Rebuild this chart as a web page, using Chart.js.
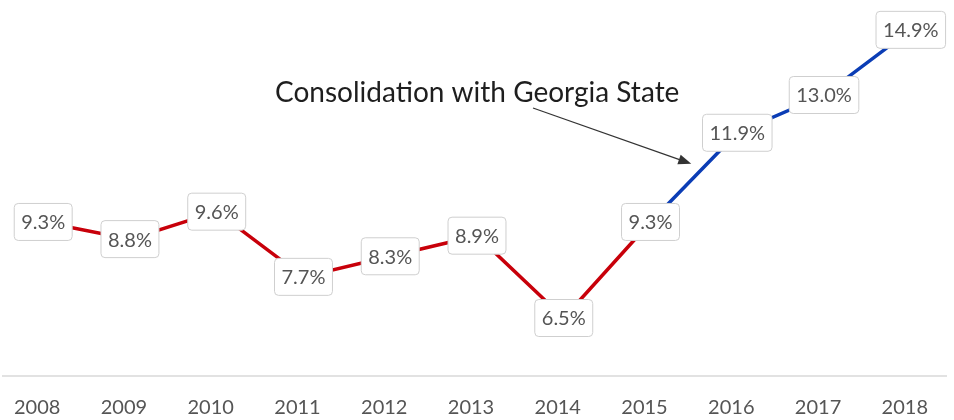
<!DOCTYPE html>
<html>
<head>
<meta charset="utf-8">
<script src="https://cdn.jsdelivr.net/npm/chart.js@4/dist/chart.umd.min.js"></script>
<style>
  html, body { margin: 0; padding: 0; background: #fff; }
  #wrap { width: 954px; height: 420px; position: relative; }
</style>
</head>
<body>
<div id="wrap"><canvas id="myCanvas"></canvas></div>
<script>
const years = ["2008", "2009", "2010", "2011", "2012", "2013", "2014", "2015", "2016", "2017", "2018"];
const rates = [9.3, 8.8, 9.6, 7.7, 8.3, 8.9, 6.5, 9.3, 11.9, 13.0, 14.9];
const consolidationIndex = 7; // line turns blue after 2015
const noteText = "Consolidation with Georgia State";

const RED = "#c8000a";
const BLUE = "#0b3db5";
const FONT = "Lato, 'Open Sans', sans-serif";

// axis rule + note with arrow
const decorPlugin = {
    id: "decor",
    beforeDatasetsDraw(chart) {
        const ctx = chart.ctx;
        const area = chart.chartArea;
        ctx.save();
        ctx.strokeStyle = "#e2e2e2";
        ctx.lineWidth = 2;
        ctx.beginPath();
        ctx.moveTo(2, area.bottom);
        ctx.lineTo(947, area.bottom);
        ctx.stroke();
        ctx.restore();
    },
    afterDatasetsDraw(chart) {
        const ctx = chart.ctx;
        const meta = chart.getDatasetMeta(0);
        ctx.save();
        ctx.font = "20px " + FONT;
        ctx.textAlign = "center";
        ctx.textBaseline = "middle";
        meta.data.forEach((pt, i) => {
            const txt = rates[i].toFixed(1) + "%";
            const w = ctx.measureText(txt).width + 14;
            const h = 37;
            ctx.beginPath();
            ctx.roundRect(pt.x - w / 2, pt.y - h / 2, w, h, 4);
            ctx.fillStyle = "#fff";
            ctx.fill();
            ctx.strokeStyle = "#cfcfcf";
            ctx.lineWidth = 1;
            ctx.stroke();
            ctx.fillStyle = "#555";
            ctx.fillText(txt, pt.x, pt.y + 1);
        });

        // annotation
        ctx.fillStyle = "#1e1e1e";
        ctx.font = "28px " + FONT;
        ctx.textAlign = "left";
        ctx.fillText(noteText, 275, 93);

        const target = meta.data[consolidationIndex + 1];
        const x0 = 533, y0 = 108;
        const x1 = target.x - 46, y1 = target.y + 31;
        const ang = Math.atan2(y1 - y0, x1 - x0);
        ctx.strokeStyle = "#333";
        ctx.lineWidth = 1.2;
        ctx.beginPath();
        ctx.moveTo(x0, y0);
        ctx.lineTo(x1 - 8 * Math.cos(ang), y1 - 8 * Math.sin(ang));
        ctx.stroke();
        ctx.fillStyle = "#333";
        ctx.beginPath();
        ctx.moveTo(x1, y1);
        ctx.lineTo(x1 - 13 * Math.cos(ang) + 5 * Math.sin(ang), y1 - 13 * Math.sin(ang) - 5 * Math.cos(ang));
        ctx.lineTo(x1 - 13 * Math.cos(ang) - 5 * Math.sin(ang), y1 - 13 * Math.sin(ang) + 5 * Math.cos(ang));
        ctx.closePath();
        ctx.fill();
        ctx.restore();
    },
};

new Chart(document.getElementById("myCanvas"), {
    type: "line",
    data: {
        labels: years,
        datasets: [
            {
                data: rates,
                borderColor: RED,
                borderWidth: 3.5,
                pointRadius: 0,
                tension: 0,
                segment: {
                    borderColor: (c) => (c.p0DataIndex >= consolidationIndex ? BLUE : RED),
                },
            },
        ],
    },
    options: {
        responsive: true,
        maintainAspectRatio: false,
        animation: false,
        layout: { padding: { left: 42, right: 43, top: 0, bottom: 0 } },
        plugins: {
            legend: { display: false },
            tooltip: { enabled: false },
        },
        scales: {
            y: {
                display: false,
                min: 4.81,
                max: 15.77,
            },
            x: {
                offset: false,
                grid: { display: false, drawTicks: false },
                border: { display: false },
                afterFit: (scale) => {
                    scale.height = 44;
                },
                ticks: {
                    color: "#555",
                    padding: 20,
                    labelOffset: -6,
                    font: { family: FONT, size: 20 },
                    maxRotation: 0,
                    autoSkip: false,
                },
            },
        },
    },
    plugins: [decorPlugin],
});
</script>
</body>
</html>
